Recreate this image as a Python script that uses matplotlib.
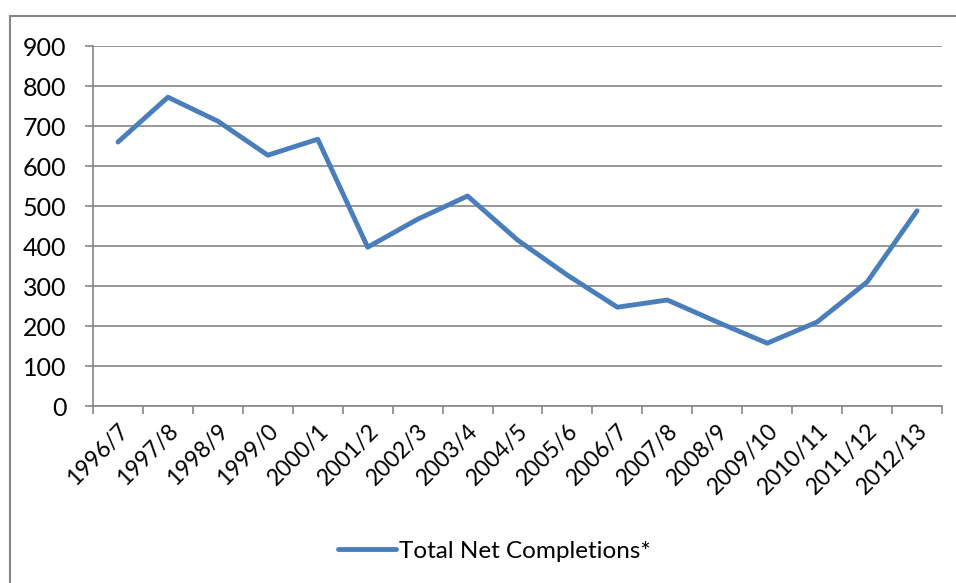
import numpy as np
import matplotlib
matplotlib.use("Agg")
import matplotlib.pyplot as plt
from matplotlib.patches import Rectangle

# data
years = ["1996/7", "1997/8", "1998/9", "1999/0", "2000/1", "2001/2", "2002/3",
         "2003/4", "2004/5", "2005/6", "2006/7", "2007/8", "2008/9", "2009/10",
         "2010/11", "2011/12", "2012/13"]
completions = [660, 772, 712, 627, 667, 397, 467, 525, 415, 327, 247, 265,
               210, 157, 210, 310, 488]
y_ticks = [0, 100, 200, 300, 400, 500, 600, 700, 800, 900]

W, H = 956, 583
GREY = "#868686"
BLUE = "#4A7EBB"

plt.rcParams["font.family"] = ["Lato", "DejaVu Sans"]

fig = plt.figure(figsize=(W / 100, H / 100), dpi=100)
ax = fig.add_axes([93 / W, 1 - 406 / H, (942 - 93) / W, (406 - 46) / H])

# outer chart frame (runs off the right and bottom edges)
fig.patches.append(Rectangle((10 / W, -0.1), 1.2, 1 - 16 / H + 0.1,
                             transform=fig.transFigure, fill=False,
                             edgecolor=GREY, linewidth=1.5, clip_on=False))

x = np.arange(len(years))
ax.plot(x, completions, color=BLUE, linewidth=3.5, solid_joinstyle="round",
        solid_capstyle="round", label="Total Net Completions*", zorder=3)

ax.set_xlim(-0.5, len(years) - 0.5)
ax.set_ylim(0, 900)
ax.set_yticks(y_ticks)
ax.yaxis.grid(True, color=GREY, linewidth=1.2)
ax.set_axisbelow(True)

ax.set_xticks(x)
ax.set_xticklabels(years, rotation=45, ha="right", va="top",
                   rotation_mode="anchor", fontsize=16.5)
ax.set_xticks(np.arange(-0.5, len(years)), minor=True)
ax.tick_params(axis="x", which="major", length=0, pad=10)
ax.tick_params(axis="x", which="minor", length=6, color=GREY, width=1.2)
ax.tick_params(axis="y", length=6, color=GREY, width=1.2, labelsize=18, pad=13)

for side in ["top", "right"]:
    ax.spines[side].set_visible(False)
for side in ["left", "bottom"]:
    ax.spines[side].set_color(GREY)
    ax.spines[side].set_linewidth(1.2)

leg = fig.legend(loc="center", bbox_to_anchor=(494 / W, 1 - 551 / H),
                 frameon=False, fontsize=17.5, handlelength=2.4,
                 handletextpad=0.1)

fig.savefig("out.png", dpi=100)
